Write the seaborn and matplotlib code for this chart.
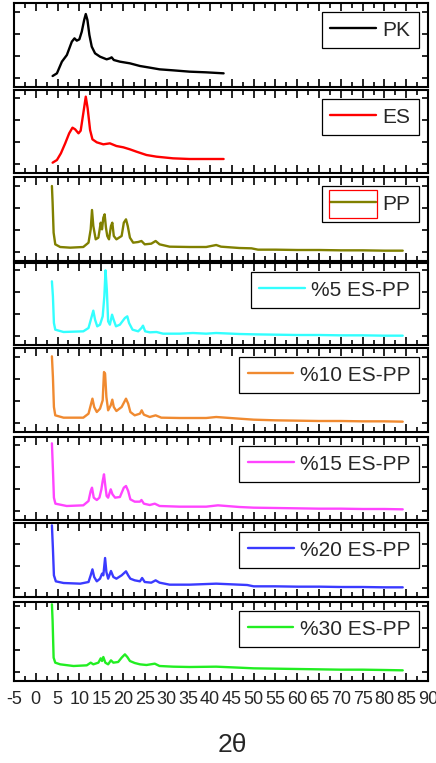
import numpy as np
import pandas as pd
import matplotlib
matplotlib.use("Agg")
import matplotlib.pyplot as plt
import seaborn as sns
from matplotlib.ticker import MultipleLocator, FixedLocator
from matplotlib.patches import Rectangle
from matplotlib.transforms import IdentityTransform

# ---------------- data (arbitrary intensity units) ----------------
labels = ["PK", "ES", "PP", "%5 ES-PP", "%10 ES-PP", "%15 ES-PP", "%20 ES-PP", "%30 ES-PP"]
colors = ["#000000", "#FF0000", "#808000", "#33FFFF", "#F08A30", "#FF44FF", "#3A3AFF", "#22EE22"]

pk_x = [3.86, 4.85, 5.99, 7.13, 8.27, 8.88, 9.41, 10.0, 10.55, 11.1, 11.47, 11.85, 12.3, 12.84, 13.6,
        14.74, 16.26, 17.0, 17.4, 17.9, 19.3, 21.6, 23.9, 26.2, 28.4, 31.5, 35.3, 39.1, 43.1]
pk_y = [33, 41, 76, 96, 136, 146, 139, 143, 166, 201, 219, 201, 156, 121, 101,
        91, 83, 86, 89, 81, 76, 71, 63, 58, 53, 50, 46, 44, 41]

es_x = [3.86, 4.85, 5.76, 6.75, 7.66, 8.42, 9.03, 9.8, 10.3, 10.9, 11.47, 11.9, 12.46, 13.0, 14.0,
        15.5, 17.0, 18.5, 20.1, 21.6, 23.1, 25.4, 27.7, 31.5, 35.3, 39.1, 43.1]
es_y = [31, 39, 59, 89, 119, 136, 131, 119, 127, 179, 229, 194, 129, 101, 92,
        86, 89, 81, 77, 71, 64, 54, 49, 44, 42, 42, 42]

pp_x = [3.7, 3.86, 4.09, 4.47, 5.6, 7.9, 10.9, 12.1, 12.6, 12.9, 13.2, 13.75, 14.36, 14.9, 15.2,
        15.5, 15.8, 16.1, 16.4, 16.8, 17.25, 17.56, 17.9, 18.5, 19.7, 20.2, 20.7, 21.1, 21.6,
        22.35, 23.5, 24.25, 25.0, 26.5, 27.5, 28.4, 30.7, 35.3, 39.1, 41.4, 42.5, 46.7,
        49.5, 51.0, 55.0, 60.0, 65.0, 70.0, 75.0, 80.0, 84.2]
pp_y = [225, 175, 85, 50, 42, 40, 42, 55, 95, 153, 105, 65, 70, 115, 95,
        130, 140, 100, 75, 65, 105, 115, 75, 65, 75, 115, 125, 105, 70,
        55, 57, 60, 50, 52, 60, 50, 43, 42, 42, 48, 43, 39,
        38, 34, 34, 33, 33, 32, 32, 31, 31]

p5_x = [3.7, 3.93, 4.16, 4.47, 6.37, 10.9, 12.1, 12.84, 13.2, 13.6, 14.1, 14.74, 15.35, 15.73, 16.0,
        16.3, 16.6, 17.0, 17.5, 17.86, 18.4, 19.3, 20.45, 21.0, 21.4, 22.2, 23.5, 24.25, 24.6,
        25.1, 26.15, 27.7, 29.2, 33.0, 36.05, 39.1, 41.4, 46.7,
        50.0, 55.0, 60.0, 65.0, 70.0, 75.0, 80.0, 84.2]
p5_y = [191, 146, 66, 46, 39, 41, 51, 86, 103, 76, 56, 61, 86, 146, 224,
        166, 71, 61, 91, 76, 56, 61, 81, 86, 66, 46, 41, 51, 58,
        41, 38, 39, 34, 34, 36, 34, 36, 33,
        32, 31, 30, 30, 29, 29, 28, 28]

p10_x = [3.7, 3.93, 4.16, 4.47, 6.37, 10.9, 12.1, 12.7, 13.0, 13.4, 14.0, 14.74, 15.35, 15.65, 15.9,
         16.2, 16.6, 17.2, 17.56, 17.9, 18.5, 19.7, 20.7, 21.2, 21.7, 22.7, 23.9, 24.3, 24.8,
         26.15, 27.5, 28.8, 33.0, 39.1, 41.4, 46.7,
         50.0, 55.0, 60.0, 65.0, 70.0, 75.0, 80.0, 84.2]
p10_y = [227, 165, 75, 50, 43, 43, 55, 85, 100, 75, 60, 70, 95, 180, 175,
         105, 65, 80, 97, 75, 63, 75, 100, 85, 60, 50, 55, 65, 52,
         45, 50, 43, 42, 42, 45, 40,
         37, 35, 34, 33, 33, 32, 32, 31]

p15_x = [3.7, 3.93, 4.16, 4.5, 7.1, 10.9, 12.1, 12.6, 12.9, 13.3, 14.0, 14.6, 15.05, 15.35, 15.65,
         15.96, 16.26, 16.6, 17.2, 17.6, 18.2, 19.3, 20.2, 20.7, 21.2, 21.7, 22.7, 23.9, 24.25,
         24.8, 26.15, 27.3, 28.4, 33.0, 39.1, 41.8, 46.7,
         50.0, 55.0, 60.0, 65.0, 70.0, 75.0, 80.0, 84.2]
p15_y = [230, 152, 67, 49, 42, 44, 57, 87, 97, 67, 60, 67, 92, 117, 137,
         102, 72, 67, 92, 77, 67, 69, 97, 102, 87, 62, 55, 55, 60,
         49, 45, 49, 42, 40, 40, 44, 39,
         37, 36, 35, 34, 34, 33, 33, 32]

p20_x = [3.7, 3.93, 4.16, 4.6, 6.37, 10.2, 12.1, 12.6, 13.0, 13.4, 14.0, 14.74, 15.2, 15.5, 15.9,
         16.2, 16.6, 17.25, 17.8, 18.5, 19.7, 20.7, 21.2, 21.7, 22.7, 23.9, 24.4, 25.0, 26.5,
         27.5, 28.4, 30.7, 35.3, 41.4, 46.7,
         48.5, 50.0, 55.0, 60.0, 65.0, 70.0, 75.0, 80.0, 84.2]
p20_y = [215, 145, 65, 47, 42, 40, 45, 65, 83, 60, 47, 55, 70, 65, 117,
         75, 55, 78, 60, 55, 65, 77, 65, 55, 50, 47, 57, 45, 43,
         50, 43, 37, 37, 40, 37,
         36, 32, 32, 31, 31, 30, 30, 29, 29]

p30_x = [3.7, 3.86, 4.09, 4.47, 5.6, 8.65, 11.7, 12.6, 13.2, 14.36, 14.9, 15.2, 15.5, 15.96, 16.6,
         17.25, 17.8, 18.9, 19.7, 20.45, 21.0, 21.6, 22.7, 23.9, 25.4, 27.3, 28.4, 31.5, 35.3,
         41.4, 46.7,
         50.0, 55.0, 60.0, 65.0, 70.0, 75.0, 80.0, 84.2]
p30_y = [230, 180, 70, 55, 50, 45, 47, 55, 50, 55, 68, 60, 72, 55, 50,
         62, 55, 57, 70, 80, 72, 60, 54, 50, 48, 52, 45, 43, 42,
         43, 40,
         38, 37, 36, 35, 34, 34, 33, 32]

series_x = [pk_x, es_x, pp_x, p5_x, p10_x, p15_x, p20_x, p30_x]
series_y = [pk_y, es_y, pp_y, p5_y, p10_y, p15_y, p20_y, p30_y]

x_ticks = list(range(-5, 91, 5))
x_ticklabels = [str(t) for t in x_ticks]
x_label = "2θ"

# ---------------- layout ----------------
W, H = 436, 763
panel_px = [(3, 87), (90, 173), (177, 261), (263, 345), (348, 432), (437, 520), (523, 597), (602, 681)]
ax_left, ax_right = 14, 428

sns.set_style("ticks")
plt.rcParams["font.family"] = ["Liberation Sans", "DejaVu Sans"]

fig = plt.figure(figsize=(W / 100, H / 100), dpi=100)
legends = []
for i, (top, bot) in enumerate(panel_px):
    ax = fig.add_axes([ax_left / W, 1 - bot / H, (ax_right - ax_left) / W, (bot - top) / H])
    df = pd.DataFrame({"x": series_x[i], "y": series_y[i]})
    sns.lineplot(data=df, x="x", y="y", ax=ax, color=colors[i], linewidth=1.7, label=labels[i])
    ytop = 3 * (bot - top)
    ax.set_xlim(-5, 90)
    ax.set_ylim(0, ytop)
    ax.xaxis.set_major_locator(MultipleLocator(5))
    ax.xaxis.set_minor_locator(MultipleLocator(2.5))
    ax.yaxis.set_major_locator(FixedLocator(list(np.arange(26, ytop, 66))))
    ax.tick_params(axis="both", which="both", direction="in", top=True, right=True,
                   bottom=True, left=True, width=1.2, color="black")
    ax.tick_params(axis="x", which="major", length=6)
    ax.tick_params(axis="x", which="minor", length=3.5)
    ax.tick_params(axis="y", which="major", length=4.5)
    ax.set_yticklabels([])
    ax.set_ylabel("")
    ax.set_xlabel("")
    for s in ax.spines.values():
        s.set_linewidth(1.5)
        s.set_color("black")
    if i < len(panel_px) - 1:
        ax.set_xticklabels([])
    else:
        ax.set_xticks(x_ticks)
        ax.set_xticklabels(x_ticklabels, fontsize=13)
        ax.tick_params(axis="x", which="major", pad=7)
        ax.set_xlabel(x_label, fontsize=19, va="top")
        ax.xaxis.set_label_coords((232 - ax_left) / (ax_right - ax_left), -(733 - bot) / (bot - top))
    leg = ax.legend(loc="upper right", fontsize=15, frameon=True, fancybox=False, framealpha=1,
                    edgecolor="black", borderpad=0.4, handlelength=2.2, handletextpad=0.3,
                    borderaxespad=0.45)
    leg.get_frame().set_linewidth(0.9)
    legends.append(leg)

# red box drawn around the PP legend sample
fig.canvas.draw()
renderer = fig.canvas.get_renderer()
leg = legends[2]
fb = leg.get_frame().get_window_extent(renderer)
hb = leg.legend_handles[0].get_window_extent(renderer)
fig.patches.append(Rectangle((hb.x0 - 1, fb.y0 + 4), hb.width + 2, fb.height - 8,
                             fill=False, edgecolor="red", linewidth=0.9,
                             transform=IdentityTransform(), figure=fig))

fig.savefig("out.png", dpi=100)
